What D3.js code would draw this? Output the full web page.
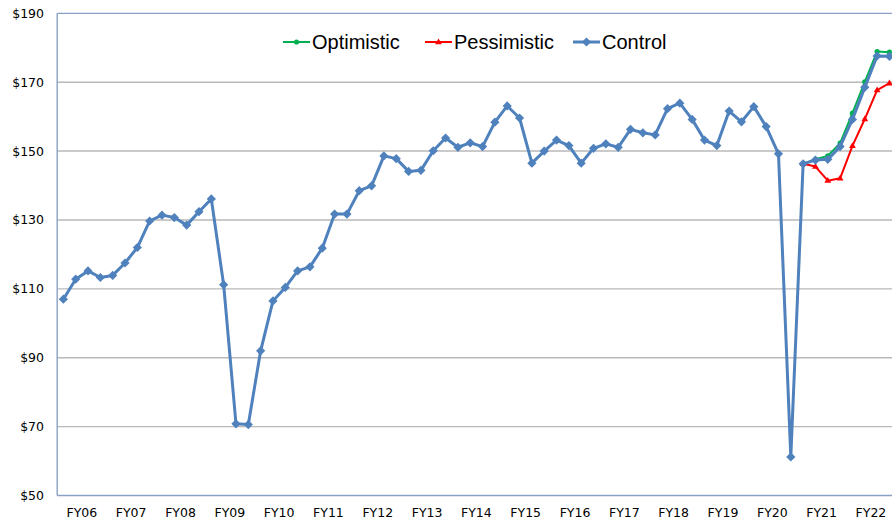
<!DOCTYPE html>
<html>
<head>
<meta charset="utf-8">
<script src="https://cdn.jsdelivr.net/npm/d3@7"></script>
<style>
  html, body { margin: 0; padding: 0; background: #fff; overflow: hidden; }
  svg { display: block; }
  .tick-label { font-family: "DejaVu Sans", sans-serif; font-size: 12.5px; fill: #000; }
  .legend-label { font-family: "Liberation Sans", Arial, sans-serif; font-size: 20px; fill: #000; }
</style>
</head>
<body>
<script>
// fiscal years on the axis, one point per quarter
var years = ["FY06","FY07","FY08","FY09","FY10","FY11","FY12","FY13","FY14",
             "FY15","FY16","FY17","FY18","FY19","FY20","FY21","FY22"];
var quarters = ["Q1","Q2","Q3","Q4"];

// control series
var control = [
  107.0,112.8,115.2,113.3, 113.9,117.5,122.0,129.7, 131.4,130.7,128.5,132.4,
  136.1,111.2, 70.8, 70.6,  92.0,106.5,110.4,115.2, 116.4,121.8,131.7,131.7,
  138.5,139.9,148.6,147.8, 144.1,144.4,150.1,153.8, 151.1,152.4,151.3,158.4,
  163.1,159.6,146.5,150.0, 153.2,151.6,146.5,150.8, 152.1,151.1,156.3,155.3,
  154.7,162.3,163.9,159.2, 153.2,151.6,161.6,158.5, 162.9,157.1,149.2, 61.2,
  146.3,147.4,147.6,151.3, 159.2,168.5,177.6,177.5
];

// scenarios start where they split from control
var scenarioStart = 60;
var optimistic  = [146.3,147.6,148.6,152.3,161.0,170.1,178.9,178.7];
var pessimistic = [146.3,145.5,141.4,142.1,151.5,159.3,167.7,169.7];

var yTicks = [50,70,90,110,130,150,170,190];

var W = 892, H = 522;
var plot = {left: 57.2, right: 895.6, top: 13.3, bottom: 495.5};

var cats = [];
years.forEach(function(y) { quarters.forEach(function(q) { cats.push(y + " " + q); }); });

var x = d3.scaleBand().domain(cats).range([plot.left, plot.right]).padding(0);
var y = d3.scaleLinear().domain([50, 190]).range([plot.bottom, plot.top]);
var cx = function(i) { return x(cats[i]) + x.bandwidth() / 2; };

var svg = d3.select("body").append("svg")
    .attr("width", W).attr("height", H);

// gridlines
svg.append("g").selectAll("line")
    .data(yTicks.filter(function(v) { return v > 50 && v < 190; }))
  .enter().append("line")
    .attr("x1", plot.left).attr("x2", W)
    .attr("y1", function(d) { return y(d); }).attr("y2", function(d) { return y(d); })
    .attr("stroke", "#b9b9b9").attr("stroke-width", 1.4);

// frame: top, left, bottom
var axisColor = "#8aa0c4";
svg.append("line").attr("x1", plot.left).attr("x2", W).attr("y1", y(190)).attr("y2", y(190))
    .attr("stroke", axisColor).attr("stroke-width", 1.2);
svg.append("line").attr("x1", plot.left).attr("x2", W).attr("y1", y(50)).attr("y2", y(50))
    .attr("stroke", axisColor).attr("stroke-width", 1.4);
svg.append("line").attr("x1", plot.left).attr("x2", plot.left).attr("y1", y(190)).attr("y2", y(50))
    .attr("stroke", axisColor).attr("stroke-width", 1.4);

// y labels
svg.append("g").selectAll("text")
    .data(yTicks)
  .enter().append("text")
    .attr("class", "tick-label")
    .attr("x", 44).attr("y", function(d) { return y(d); })
    .attr("dy", ".36em")
    .style("text-anchor", "end")
    .text(function(d) { return "$" + d; });

// x labels, sit on the Q3 boundary of each year
svg.append("g").selectAll("text")
    .data(years)
  .enter().append("text")
    .attr("class", "tick-label")
    .attr("x", function(d) { return x(d + " Q3"); })
    .attr("y", 512.5).attr("dy", ".36em")
    .style("text-anchor", "middle")
    .text(function(d) { return d; });

var diamond = function(r) { return "M0," + (-r) + "L" + r + ",0L0," + r + "L" + (-r) + ",0Z"; };
var triangle = function(r) { return "M0," + (-r) + "L" + (r * 0.95) + "," + (r * 0.6) + "L" + (-r * 0.95) + "," + (r * 0.6) + "Z"; };

var series = [
  {name: "Optimistic",  values: optimistic,  start: scenarioStart, color: "#00b050", width: 2,
   marker: function(g) { g.append("circle").attr("r", 2.6); }},
  {name: "Pessimistic", values: pessimistic, start: scenarioStart, color: "#ff0000", width: 2,
   marker: function(g) { g.append("path").attr("d", triangle(3.6)); }},
  {name: "Control",     values: control,     start: 0,             color: "#4f81bd", width: 3,
   marker: function(g) { g.append("path").attr("d", diamond(4.6)); }}
];

var line = d3.line()
    .x(function(d) { return cx(d.i); })
    .y(function(d) { return y(d.v); });

series.forEach(function(s) {
  var pts = s.values.map(function(v, k) { return {i: s.start + k, v: v}; });
  svg.append("path")
      .datum(pts)
      .attr("fill", "none")
      .attr("stroke", s.color)
      .attr("stroke-width", s.width)
      .attr("stroke-linejoin", "round")
      .attr("d", line);
  svg.append("g").selectAll("g")
      .data(pts)
    .enter().append("g")
      .attr("transform", function(d) { return "translate(" + cx(d.i) + "," + y(d.v) + ")"; })
      .attr("fill", s.color)
      .each(function() { s.marker(d3.select(this)); });
});

// legend
var legendX = [283, 425, 573];
var legend = svg.selectAll(".legend")
    .data(series)
  .enter().append("g")
    .attr("class", "legend")
    .attr("transform", function(d, i) { return "translate(" + legendX[i] + ",42)"; });

legend.append("line")
    .attr("x1", 0).attr("x2", 27).attr("y1", 0).attr("y2", 0)
    .attr("stroke", function(d) { return d.color; })
    .attr("stroke-width", function(d) { return d.width; });
legend.append("g")
    .attr("transform", "translate(13.5,0)")
    .attr("fill", function(d) { return d.color; })
    .each(function(d) { d.marker(d3.select(this)); });
legend.append("text")
    .attr("class", "legend-label")
    .attr("x", 29).attr("y", 0).attr("dy", ".35em")
    .text(function(d) { return d.name; });
</script>
</body>
</html>
